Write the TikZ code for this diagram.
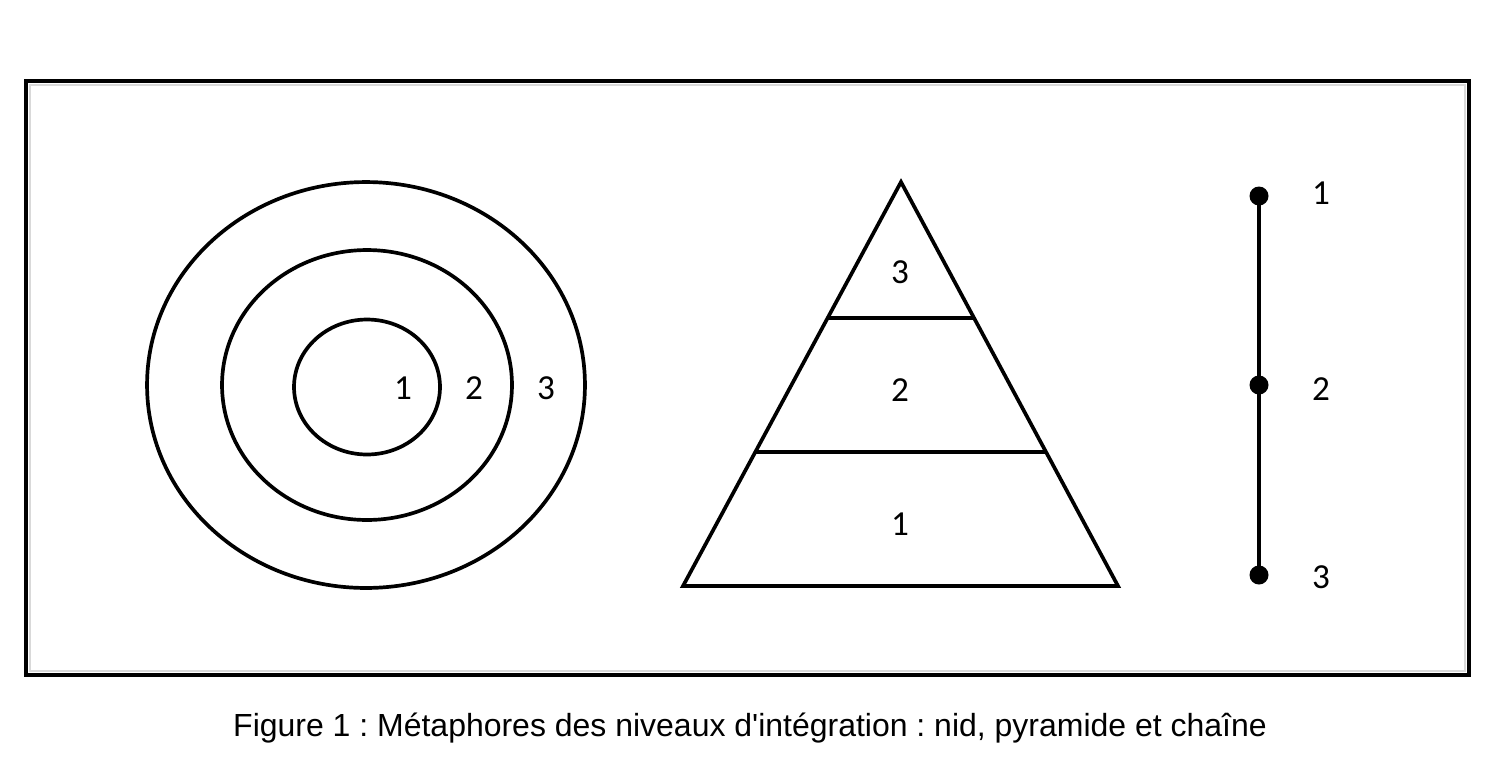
\documentclass[tikz,border=0pt]{standalone}
\usepackage{fontspec}
\setmainfont{Liberation Sans}
\newfontfamily\digitfont{Carlito}
\usetikzlibrary{calc}
\begin{document}
\frenchspacing
\begin{tikzpicture}[x=0.02cm,y=-0.02cm,
  shape line/.style={line width=2.1pt, black},
  num/.style={font=\digitfont\fontsize{20}{22}\selectfont, inner sep=0pt},
  dotnode/.style={circle, fill=black, inner sep=0pt, minimum size=0.38cm},
  caption/.style={font=\fontsize{18.2}{21}\selectfont, inner sep=0pt}]
\useasboundingbox (0,0) rectangle (1500,782);
% frame
\draw[line width=1pt, black!15] (30,85) rectangle (1465,671);
\draw[line width=2pt, black] (26,81) rectangle (1469,675);
% nest
\draw[shape line] (366,385) ellipse [x radius=4.38cm, y radius=4.06cm];
\draw[shape line] (367,385) ellipse [x radius=2.90cm, y radius=2.70cm];
\draw[shape line] (367,387) ellipse [x radius=1.46cm, y radius=1.35cm];
\node[num] (n1) at (403,388) {1};
\node[num] (n2) at (474,388) {2};
\node[num] (n3) at (546,388) {3};
% pyramid
\coordinate (apex) at (901,182);
\coordinate (bl) at (683,586);
\coordinate (br) at (1118,586);
\draw[shape line, line join=miter] (apex) -- (bl) -- (br) -- cycle;
\draw[shape line] ($(apex)!0.3366!(bl)$) -- ($(apex)!0.3366!(br)$);
\draw[shape line] ($(apex)!0.668!(bl)$) -- ($(apex)!0.668!(br)$);
\node[num] (p3) at (900,272) {3};
\node[num] (p2) at (900,390) {2};
\node[num] (p1) at (900,524) {1};
% chain
\node[dotnode] (d1) at (1259,196) {};
\node[dotnode] (d2) at (1259,385) {};
\node[dotnode] (d3) at (1259,575) {};
\draw[shape line] (d1.center) -- (d2.center) -- (d3.center);
\node[num] (c1) at (1321,193) {1};
\node[num] (c2) at (1321,389) {2};
\node[num] (c3) at (1321,577) {3};
% caption
\node[caption] (cap) at (750,728) {Figure 1 : Métaphores des niveaux d\textquotesingle intégration : nid, pyramide et chaîne};
\end{tikzpicture}
\end{document}
